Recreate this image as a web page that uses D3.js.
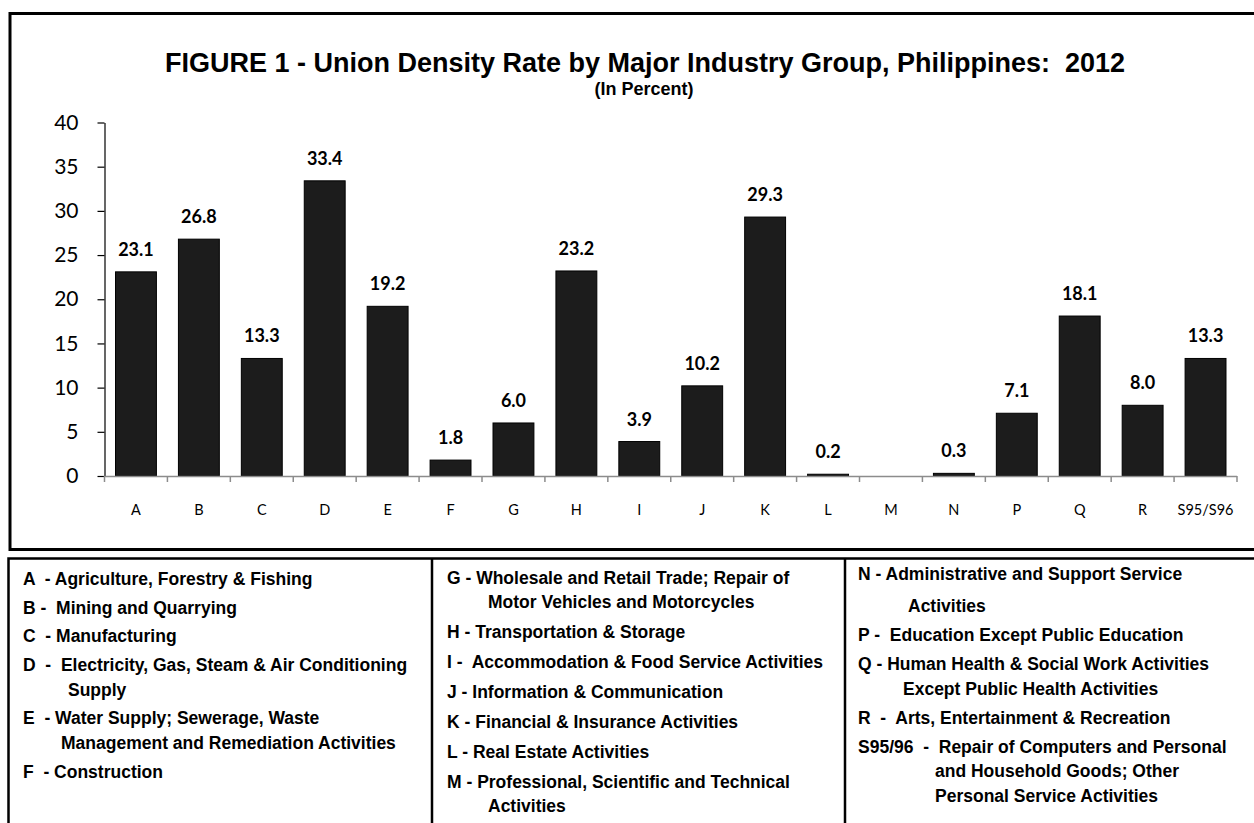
<!DOCTYPE html>
<html>
<head>
<meta charset="utf-8">
<script src="https://cdn.jsdelivr.net/npm/d3@7"></script>
<style>
  body { margin: 0; background: #fff; }
  svg { display: block; }
  text { white-space: pre; }
</style>
</head>
<body>
<svg id="chart" width="1254" height="823"></svg>
<script>
// ---------------- DATA ----------------
const categories = ["A","B","C","D","E","F","G","H","I","J","K","L","M","N","P","Q","R","S95/S96"];
const values = [23.1, 26.8, 13.3, 33.4, 19.2, 1.8, 6.0, 23.2, 3.9, 10.2, 29.3, 0.2, null, 0.3, 7.1, 18.1, 8.0, 13.3];
const yTickValues = [0, 5, 10, 15, 20, 25, 30, 35, 40];
const titleText = "FIGURE 1 - Union Density Rate by Major Industry Group, Philippines:  2012";
const subtitleText = "(In Percent)";

const legendCol1 = [
  ["A", ["A  - Agriculture, Forestry & Fishing"]],
  ["B", ["B -  Mining and Quarrying"]],
  ["C", ["C  - Manufacturing"]],
  ["D", ["D  -  Electricity, Gas, Steam & Air Conditioning", "Supply"]],
  ["E", ["E  - Water Supply; Sewerage, Waste", "Management and Remediation Activities"]],
  ["F", ["F  - Construction"]]
];
const legendCol2 = [
  ["G", ["G - Wholesale and Retail Trade; Repair of", "Motor Vehicles and Motorcycles"]],
  ["H", ["H - Transportation & Storage"]],
  ["I", ["I -  Accommodation & Food Service Activities"]],
  ["J", ["J - Information & Communication"]],
  ["K", ["K - Financial & Insurance Activities"]],
  ["L", ["L - Real Estate Activities"]],
  ["M", ["M - Professional, Scientific and Technical", "Activities"]]
];
const legendCol3 = [
  ["N", ["N - Administrative and Support Service", "Activities"]],
  ["P", ["P -  Education Except Public Education"]],
  ["Q", ["Q - Human Health & Social Work Activities", "Except Public Health Activities"]],
  ["R", ["R  -  Arts, Entertainment & Recreation"]],
  ["S", ["S95/96  -  Repair of Computers and Personal", "and Household Goods; Other", "Personal Service Activities"]]
];

// ---------------- LAYOUT ----------------
const svg = d3.select("#chart");

// frames
svg.append("rect").attr("x", 10).attr("y", 13.5).attr("width", 1300).attr("height", 536)
  .attr("fill", "none").attr("stroke", "#000").attr("stroke-width", 3);
svg.append("rect").attr("x", 8.5).attr("y", 558.5).attr("width", 1300).attr("height", 400)
  .attr("fill", "none").attr("stroke", "#000").attr("stroke-width", 2.5);
[432, 845].forEach(xx => {
  svg.append("line").attr("x1", xx).attr("x2", xx).attr("y1", 558).attr("y2", 823)
    .attr("stroke", "#000").attr("stroke-width", 2.5);
});

// title
svg.append("text").attr("x", 645).attr("y", 72).attr("text-anchor", "middle")
  .attr("font-family", "'Liberation Sans', Arial, sans-serif").attr("font-weight", "bold")
  .attr("font-size", 27).attr("fill", "#000").text(titleText);
svg.append("text").attr("x", 644).attr("y", 95).attr("text-anchor", "middle")
  .attr("font-family", "'Liberation Sans', Arial, sans-serif").attr("font-weight", "bold")
  .attr("font-size", 18).attr("fill", "#000").text(subtitleText);

// scales
const x = d3.scaleBand().domain(categories).range([104.5, 1237])
  .paddingInner(0.35).paddingOuter(0.175);
const y = d3.scaleLinear().domain([0, 40]).range([476, 122.5]);

// bars
const data = categories.map((c, i) => ({ c, v: values[i] }));
svg.append("g").selectAll("rect").data(data.filter(d => d.v != null)).join("rect")
  .attr("x", d => x(d.c)).attr("width", x.bandwidth())
  .attr("y", d => y(d.v)).attr("height", d => y(0) - y(d.v))
  .attr("fill", "#1c1c1c").attr("stroke", "#000").attr("stroke-width", 1);

// value labels
svg.append("g").selectAll("text").data(data.filter(d => d.v != null)).join("text")
  .attr("x", d => x(d.c) + x.bandwidth() / 2).attr("y", d => y(d.v) - 16)
  .attr("text-anchor", "middle").attr("font-family", "Lato, 'Open Sans', sans-serif")
  .attr("font-weight", "bold").attr("font-size", 18).attr("fill", "#000")
  .text(d => d3.format(".1f")(d.v));

// y axis
const yAxis = d3.axisLeft(y).tickValues(yTickValues).tickSize(7).tickSizeOuter(0).tickPadding(19)
  .tickFormat(d3.format("d"));
const gy = svg.append("g").attr("transform", "translate(104.5,0)").call(yAxis);
gy.select(".domain").attr("stroke", "#000").attr("stroke-width", 1.2);
gy.selectAll(".tick line").attr("stroke", "#000").attr("stroke-width", 1.2);
gy.selectAll(".tick text").attr("font-family", "Lato, 'Open Sans', sans-serif")
  .attr("font-size", 21).attr("fill", "#000");

// x axis (grey baseline with ticks at category boundaries)
const gx = svg.append("g");
const r = x.range();
gx.append("line").attr("x1", r[0]).attr("x2", r[1]).attr("y1", y(0) + 0.5).attr("y2", y(0) + 0.5)
  .attr("stroke", "#8c8c8c").attr("stroke-width", 1.5);
const boundaries = d3.range(categories.length + 1).map(i => r[0] + i * x.step());
gx.selectAll("line.tk").data(boundaries).join("line").attr("class", "tk")
  .attr("x1", d => d).attr("x2", d => d).attr("y1", y(0)).attr("y2", y(0) + 6)
  .attr("stroke", "#8c8c8c").attr("stroke-width", 1.5);
gx.selectAll("text").data(categories).join("text")
  .attr("x", d => x(d) + x.bandwidth() / 2).attr("y", 515)
  .attr("text-anchor", "middle").attr("font-family", "Lato, 'Open Sans', sans-serif")
  .attr("font-size", 14.5).attr("fill", "#000").text(d => d);

// legend
const legendFont = "'Liberation Sans', Arial, sans-serif";
const indentFor = { D: 45, E: 38, G: 41, M: 41, N: 50, Q: 45, S: 77 };
const looseWrap = { N: true };
function drawLegend(entries, x0, top, step, wrap) {
  let yy = top;
  const g = svg.append("g");
  entries.forEach(([code, lines], ei) => {
    if (ei > 0) yy += step;
    lines.forEach((ln, li) => {
      if (li > 0) yy += looseWrap[code] ? step + 3 : wrap;
      g.append("text").attr("x", li === 0 ? x0 : x0 + (indentFor[code] || 40)).attr("y", yy)
        .attr("font-family", legendFont).attr("font-weight", "bold").attr("font-size", 17.5)
        .attr("fill", "#000").text(ln);
    });
  });
}
drawLegend(legendCol1, 23, 585, 28.5, 25);
drawLegend(legendCol2, 447, 584, 30, 24);
drawLegend(legendCol3, 858, 580, 29, 24.5);
</script>
</body>
</html>
